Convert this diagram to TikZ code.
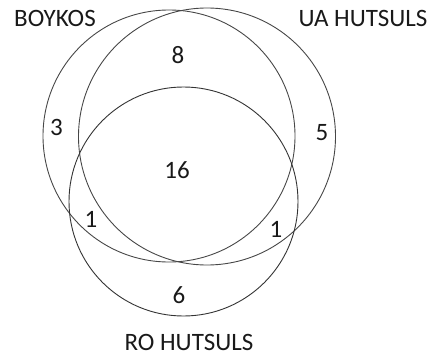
\documentclass[tikz,border=0pt]{standalone}
\usepackage{fontspec}
\setmainfont{Carlito}
\begin{document}
\begin{tikzpicture}[x=1pt,y=-1pt,
  setcircle/.style={circle,draw=black!72,line width=0.9pt,inner sep=0pt,outer sep=0pt},
  setlabel/.style={anchor=base,inner sep=0pt,text=black!90,font=\fontsize{25}{30}\selectfont},
  count/.style={anchor=base,inner sep=0pt,text=black!90,font=\fontsize{25}{30}\selectfont}]
\useasboundingbox (0,0) rectangle (434,356);
\node[setcircle,minimum size=252pt] (boykos) at (169,136) {};
\node[setcircle,minimum size=257pt] (ua) at (207,136.5) {};
\node[setcircle,minimum size=229pt,draw=black!80] (ro) at (183.5,201.5) {};
\node[setlabel] (lboykos) at (55,27) {BOYKOS};
\node[setlabel] (lua) at (363,27) {UA HUTSULS};
\node[setlabel] (lro) at (189,350) {RO HUTSULS};
\node[count] (n8) at (178,63) {8};
\node[count] (n3) at (56.5,135) {3};
\node[count] (n5) at (322,140) {5};
\node[count] (n16) at (177,178) {16};
\node[count] (n1a) at (91,227) {1};
\node[count] (n1b) at (276,237) {1};
\node[count] (n6) at (179,303) {6};
\end{tikzpicture}
\end{document}
